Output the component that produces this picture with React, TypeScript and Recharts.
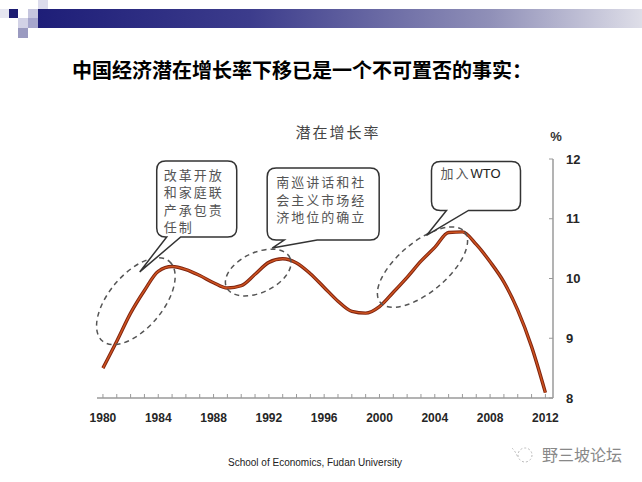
import React from "react";
import { LineChart, Line, XAxis, YAxis, ReferenceDot } from "recharts";

// potential growth rate, %
const years = [
  1980, 1981, 1982, 1983, 1984, 1985, 1986, 1987, 1988, 1989, 1990, 1991,
  1992, 1993, 1994, 1995, 1996, 1997, 1998, 1999, 2000, 2001, 2002, 2003,
  2004, 2005, 2006, 2007, 2008, 2009, 2010, 2011, 2012,
];
const potentialGrowth = [
  8.5, 8.95, 9.42, 9.8, 10.12, 10.2, 10.15, 10.05, 9.93, 9.84, 9.88, 10.07,
  10.27, 10.33, 10.26, 10.08, 9.85, 9.62, 9.45, 9.42, 9.53, 9.77, 10.02, 10.29,
  10.52, 10.77, 10.78, 10.57, 10.28, 9.94, 9.47, 8.86, 8.09,
];
const xLabelYears = [1980, 1984, 1988, 1992, 1996, 2000, 2004, 2008, 2012];
const yTicks = [8, 9, 10, 11, 12];

const chartData = years.map((year, i) => ({ year, rate: potentialGrowth[i] }));

// dashed circles around the reform periods
const ellipses = [
  { year: 1982.38, rate: 9.62, rx: 52, ry: 27, angle: -50 },
  { year: 1991.23, rate: 10.1, rx: 35, ry: 20, angle: -25 },
  { year: 2003.11, rate: 10.19, rx: 55, ry: 25, angle: -40 },
];

// speech bubbles, anchored at the tip of their tail
const callouts = [
  {
    year: 1982.66,
    rate: 10.11,
    lines: ["改革开放", "和家庭联", "产承包责", "任制"],
    box: { dx: 17, dy: -111, w: 80, h: 76, t1: 27, t2: 41, pad: 7, top: 19 },
  },
  {
    year: 1992.24,
    rate: 10.51,
    lines: ["南巡讲话和社", "会主义市场经", "济地位的确立"],
    box: { dx: -5, dy: -80, w: 112, h: 72, t1: 12, t2: 45, pad: 9, top: 19 },
  },
  {
    year: 2003.4,
    rate: 10.72,
    lines: ["加入|WTO"],
    box: { dx: 5, dy: -74, w: 89, h: 49, t1: 20, t2: 42, pad: 9, top: 17 },
  },
];

const squares = [
  { x: 0, y: 9, w: 9, h: 9, c: "#e6e6f0" },
  { x: 9, y: 9, w: 9, h: 9, c: "#1c1c72" },
  { x: 28, y: 9, w: 10, h: 9, c: "#c6c6de" },
  { x: 38, y: 0, w: 10, h: 9, c: "#dcdcec" },
  { x: 18, y: 18, w: 10, h: 10, c: "#d2d2e6" },
  { x: 28, y: 18, w: 10, h: 10, c: "#a6a6cc" },
  { x: 18, y: 28, w: 10, h: 10, c: "#9a9ac0" },
];

const cjk = '"Noto Sans CJK SC", sans-serif';
const latin = '"Liberation Sans", Arial, sans-serif';

function bubblePath(cx: number, cy: number, b: any) {
  const x = cx + b.dx;
  const y = cy + b.dy;
  const r = 9;
  const w = b.w;
  const h = b.h;
  return `M${x + r},${y} H${x + w - r} Q${x + w},${y} ${x + w},${y + r} V${y + h - r} Q${x + w},${y + h} ${x + w - r},${y + h} H${cx + b.t2} L${cx},${cy} L${cx + b.t1},${y + h} H${x + r} Q${x},${y + h} ${x},${y + h - r} V${y + r} Q${x},${y} ${x + r},${y} Z`;
}

const XTick = (props: any) => {
  const { x, y, payload } = props;
  const showLabel = xLabelYears.includes(payload.value);
  return (
    <g>
      <line x1={x} x2={x} y1={y} y2={y - 4} stroke="#9a9a9a" strokeWidth={1} />
      {showLabel && (
        <text
          x={x}
          y={y + 20}
          dy="0.35em"
          textAnchor="middle"
          fontFamily={latin}
          fontWeight="bold"
          fontSize={12}
          fill="#262626"
        >
          {payload.value}
        </text>
      )}
    </g>
  );
};

const YTick = (props: any) => {
  const { x, y, payload } = props;
  return (
    <g>
      <line x1={x} x2={x - 4} y1={y} y2={y} stroke="#9a9a9a" strokeWidth={1} />
      <text
        x={x + 13}
        y={y}
        dy="0.35em"
        textAnchor="start"
        fontFamily={latin}
        fontWeight="bold"
        fontSize={13}
        fill="#262626"
      >
        {payload.value}
      </text>
    </g>
  );
};

const Bubble = (props: any) => {
  const { cx, cy, callout } = props;
  const b = callout.box;
  const x = cx + b.dx;
  const y = cy + b.dy;
  return (
    <g>
      <path d={bubblePath(cx, cy, b)} fill="#fff" stroke="#333" strokeWidth={1.5} />
      {callout.lines.map((line: string, i: number) => {
        const [cn, en] = line.split("|");
        return (
          <text
            key={i}
            x={x + b.pad}
            y={y + b.top + i * 17.5}
            fontFamily={cjk}
            fontSize={13}
            letterSpacing={2}
            fill="#555"
          >
            {cn}
            {en && (
              <tspan fontFamily={latin} fill="#222" letterSpacing={0}>
                {en}
              </tspan>
            )}
          </text>
        );
      })}
    </g>
  );
};

const DashedEllipse = (props: any) => {
  const { cx, cy, e } = props;
  return (
    <ellipse
      cx={cx}
      cy={cy}
      rx={e.rx}
      ry={e.ry}
      transform={`rotate(${e.angle} ${cx} ${cy})`}
      fill="none"
      stroke="#555"
      strokeWidth={1.5}
      strokeDasharray="5 4"
    />
  );
};

export default function App() {
  return (
    <div
      style={{
        position: "absolute",
        left: 0,
        top: 0,
        width: 642,
        height: 482,
        background: "#fff",
        overflow: "hidden",
      }}
    >
      {squares.map((s, i) => (
        <div
          key={i}
          style={{
            position: "absolute",
            left: s.x,
            top: s.y,
            width: s.w,
            height: s.h,
            background: s.c,
          }}
        />
      ))}
      <div
        style={{
          position: "absolute",
          left: 38,
          top: 9,
          width: 604,
          height: 19,
          background: "linear-gradient(to right, #1e1e78, #3c3c8c 35%, #9090b8 75%, #dedee8)",
        }}
      />
      <div
        style={{
          position: "absolute",
          left: 72,
          top: 57,
          fontFamily: cjk,
          fontWeight: "bold",
          fontSize: 20,
          lineHeight: "26px",
          color: "#000",
          whiteSpace: "nowrap",
        }}
      >
        中国经济潜在增长率下移已是一个不可置否的事实：
      </div>

      <div style={{ position: "absolute", left: 0, top: 0 }}>
        <LineChart
          width={642}
          height={482}
          data={chartData}
          margin={{ top: 159, right: 49, bottom: 54, left: 97 }}
        >
          <XAxis
            dataKey="year"
            type="number"
            domain={[1979.57, 2012.55]}
            ticks={years}
            interval={0}
            height={30}
            tickSize={0}
            tickMargin={0}
            tickLine={false}
            axisLine={{ stroke: "#9a9a9a", strokeWidth: 1.5 }}
            tick={<XTick />}
          />
          <YAxis
            orientation="right"
            type="number"
            domain={[8, 12]}
            ticks={yTicks}
            width={40}
            tickSize={0}
            tickMargin={0}
            tickLine={false}
            axisLine={{ stroke: "#9a9a9a", strokeWidth: 1.5 }}
            tick={<YTick />}
          />
          <Line
            dataKey="rate"
            type="monotone"
            stroke="#7e2410"
            strokeWidth={3.4}
            dot={false}
            activeDot={false}
            isAnimationActive={false}
          />
          <Line
            dataKey="rate"
            type="monotone"
            stroke="#cf531f"
            strokeWidth={1.5}
            dot={false}
            activeDot={false}
            isAnimationActive={false}
          />
          {ellipses.map((e, i) => (
            <ReferenceDot
              key={`e${i}`}
              x={e.year}
              y={e.rate}
              ifOverflow="visible"
              shape={(p: any) => <DashedEllipse {...p} e={e} />}
            />
          ))}
          {callouts.map((c, i) => (
            <ReferenceDot
              key={`c${i}`}
              x={c.year}
              y={c.rate}
              ifOverflow="visible"
              shape={(p: any) => <Bubble {...p} callout={c} />}
            />
          ))}
        </LineChart>
      </div>

      <div
        style={{
          position: "absolute",
          left: 288,
          top: 123,
          width: 100,
          textAlign: "center",
          fontFamily: cjk,
          fontSize: 15,
          letterSpacing: 2,
          lineHeight: "18px",
          color: "#444",
        }}
      >
        潜在增长率
      </div>
      <div
        style={{
          position: "absolute",
          left: 548,
          top: 129,
          width: 16,
          textAlign: "center",
          fontFamily: latin,
          fontWeight: "bold",
          fontSize: 13,
          lineHeight: "16px",
          color: "#333",
        }}
      >
        %
      </div>
      <div
        style={{
          position: "absolute",
          left: 228,
          top: 456,
          fontFamily: latin,
          fontSize: 10,
          lineHeight: "14px",
          color: "#222",
          whiteSpace: "nowrap",
        }}
      >
        School of Economics, Fudan University
      </div>
      <svg
        style={{ position: "absolute", left: 508, top: 442 }}
        width={30}
        height={24}
      >
        <circle cx={17} cy={13} r={7} fill="none" stroke="#bbb" strokeDasharray="2 2" />
        <path d="M4 6 Q8 10 10 16" fill="none" stroke="#bbb" strokeDasharray="2 2" />
      </svg>
      <div
        style={{
          position: "absolute",
          left: 542,
          top: 444,
          fontFamily: cjk,
          fontSize: 16,
          lineHeight: "20px",
          color: "#888",
          whiteSpace: "nowrap",
        }}
      >
        野三坡论坛
      </div>
    </div>
  );
}
